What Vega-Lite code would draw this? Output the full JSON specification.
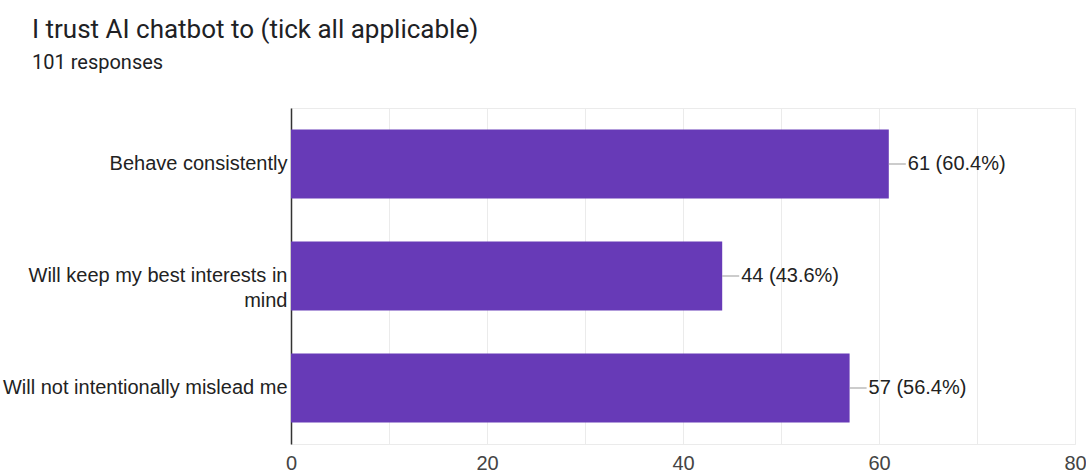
{
  "$schema": "https://vega.github.io/schema/vega-lite/v6.json",
  "autosize": "none",
  "width": 784,
  "height": 336,
  "padding": {"left": 291, "top": 108, "right": 11, "bottom": 31},
  "background": "white",
  "title": {
    "text": "I trust AI chatbot to (tick all applicable)",
    "subtitle": "101 responses",
    "anchor": "start",
    "frame": "group",
    "dx": -259,
    "offset": 35,
    "font": "Roboto",
    "fontSize": 26,
    "fontWeight": "normal",
    "color": "#202124",
    "subtitleFont": "Roboto",
    "subtitleFontSize": 20,
    "subtitleColor": "#202124",
    "subtitlePadding": 10
  },
  "config": {
    "view": {"stroke": "#ebebeb", "strokeWidth": 1},
    "font": "Liberation Sans"
  },
  "data": {
    "values": [
      {"option": "Behave consistently", "count": 61, "label": "61 (60.4%)"},
      {"option": "Will keep my best interests in mind", "count": 44, "label": "44 (43.6%)"},
      {"option": "Will not intentionally mislead me", "count": 57, "label": "57 (56.4%)"}
    ]
  },
  "encoding": {
    "y": {
      "field": "option",
      "type": "nominal",
      "sort": null,
      "scale": {"paddingInner": 0.384, "paddingOuter": 0.192},
      "axis": {
        "title": null,
        "ticks": false,
        "domain": true,
        "domainColor": "#333333",
        "domainWidth": 1.5,
        "labelFont": "Liberation Sans",
        "labelFontSize": 20,
        "labelColor": "#222222",
        "labelPadding": 4,
        "labelLimit": 400,
        "labelLineHeight": 25,
        "labelExpr": "datum.value == 'Will keep my best interests in mind' ? ['Will keep my best interests in', 'mind'] : datum.value"
      }
    }
  },
  "layer": [
    {
      "mark": {"type": "bar", "color": "#673ab7"},
      "encoding": {
        "x": {
          "field": "count",
          "type": "quantitative",
          "scale": {"domain": [0, 80], "nice": false},
          "axis": {
            "title": null,
            "values": [0, 10, 20, 30, 40, 50, 60, 70, 80],
            "labelExpr": "datum.value % 20 === 0 ? datum.label : ''",
            "ticks": false,
            "domain": false,
            "grid": true,
            "gridColor": "#ebebeb",
            "gridWidth": 1,
            "labelFont": "Liberation Sans",
            "labelFontSize": 20,
            "labelColor": "#444444",
            "labelPadding": 9,
            "labelFlush": false
          }
        }
      }
    },
    {
      "mark": {"type": "rule", "color": "#999999", "strokeWidth": 1, "x2Offset": 17},
      "encoding": {
        "x": {"field": "count", "type": "quantitative"},
        "x2": {"field": "count"}
      }
    },
    {
      "mark": {"type": "text", "align": "left", "baseline": "middle", "dx": 19, "fontSize": 20, "font": "Liberation Sans", "color": "#222222"},
      "encoding": {
        "x": {"field": "count", "type": "quantitative"},
        "text": {"field": "label"}
      }
    }
  ]
}
